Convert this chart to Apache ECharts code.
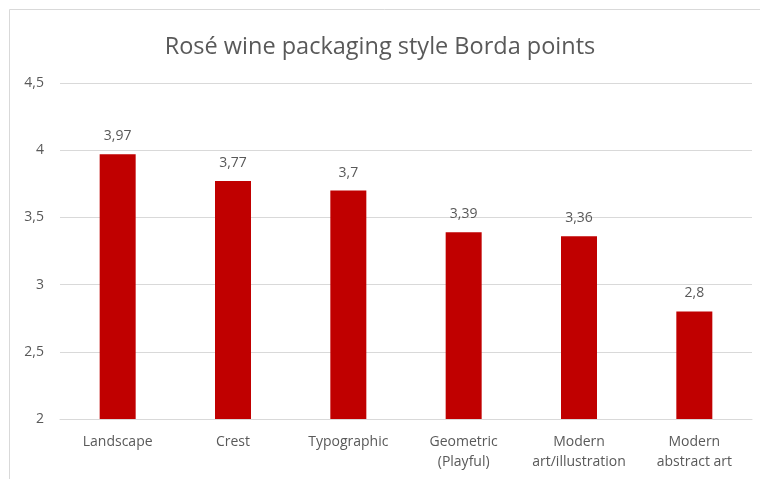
<!DOCTYPE html>
<html>
<head>
<meta charset="utf-8">
<script src="https://cdn.jsdelivr.net/npm/echarts@6/dist/echarts.min.js"></script>
<style>
  html, body { margin: 0; padding: 0; background: #ffffff; }
  #chart { width: 760px; height: 479px; }
</style>
</head>
<body>
<div id="chart"></div>
<script>
// Packaging styles and their Borda point averages
const categories = ['Landscape', 'Crest', 'Typographic', 'Geometric\n(Playful)', 'Modern\nart/illustration', 'Modern\nabstract art'];
const bordaPoints = [3.97, 3.77, 3.7, 3.39, 3.36, 2.8];
const titleText = 'Rosé wine packaging style Borda points';

const FONT = '"Open Sans", "Noto Sans", sans-serif';
const TEXT = '#595959';
const LINE = '#d9d9d9';

// decimal comma formatting
const comma = v => String(v).replace('.', ',');

const chart = echarts.init(document.getElementById('chart'), null, { renderer: 'canvas' });
chart.setOption({
  animation: false,
  backgroundColor: '#ffffff',
  graphic: [{
    type: 'polyline',
    shape: { points: [[9.5, 479], [9.5, 9.5], [760, 9.5]] },
    style: { stroke: LINE, lineWidth: 1, fill: null },
    silent: true
  }],
  title: {
    text: titleText,
    left: 'center',
    top: 30,
    textStyle: { fontFamily: FONT, fontSize: 23.5, fontWeight: 'normal', color: TEXT }
  },
  grid: { left: 60, right: 8, top: 83, bottom: 60, containLabel: false },
  xAxis: {
    type: 'category',
    data: categories,
    axisLine: { lineStyle: { color: LINE, width: 1 } },
    axisTick: { show: false },
    axisLabel: {
      color: TEXT, fontFamily: FONT, fontSize: 14, margin: 13, lineHeight: 20, interval: 0
    }
  },
  yAxis: {
    type: 'value',
    min: 2, max: 4.5, interval: 0.5,
    axisLine: { show: false },
    axisTick: { show: false },
    splitLine: { lineStyle: { color: LINE, width: 1 } },
    axisLabel: {
      color: TEXT, fontFamily: FONT, fontSize: 14, margin: 16,
      formatter: v => comma(v)
    }
  },
  series: [{
    type: 'bar',
    data: bordaPoints,
    barWidth: 36,
    itemStyle: { color: '#C00000' },
    label: {
      show: true, position: 'top', distance: 11,
      color: TEXT, fontFamily: FONT, fontSize: 14,
      formatter: p => comma(p.value)
    }
  }]
});
</script>
</body>
</html>
